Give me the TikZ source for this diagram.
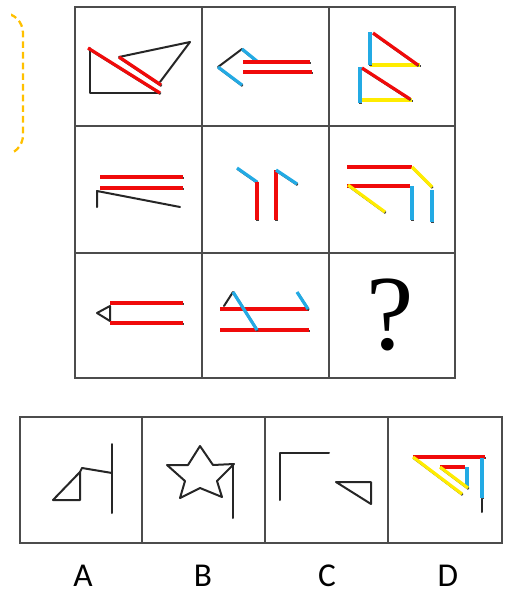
\documentclass[tikz,border=0pt]{standalone}
\usepackage{fontspec}
\newfontfamily\labelfont{Carlito}
\newfontfamily\qfont{Liberation Serif}

\definecolor{linered}{RGB}{240,10,10}
\definecolor{lineblue}{RGB}{35,170,228}
\definecolor{lineyellow}{RGB}{255,236,0}
\definecolor{bracketgold}{RGB}{255,192,0}

\begin{document}
\begin{tikzpicture}[
  x=0.75pt, y=-0.75pt,
  frame/.style={draw=black!70, line width=2pt},
  stroke/.style={draw=black!85, line width=1.5pt, line join=round, line cap=round},
  shade/.style={preaction={draw=black!75, line width=1.8pt, transform canvas={xshift=0.5pt, yshift=-0.7pt}}},
  rline/.style={shade, draw=linered, line width=2.4pt},
  bline/.style={shade, draw=lineblue, line width=2.4pt},
  yline/.style={shade, draw=lineyellow, line width=2.4pt},
  bracket/.style={draw=bracketgold, line width=1.7pt, dash pattern=on 5pt off 3pt, rounded corners=15pt},
  optlabel/.style={font=\labelfont\fontsize{25}{25}\selectfont, inner sep=0pt},
  qmark/.style={font=\qfont\fontsize{80}{80}\selectfont, inner sep=0pt}
]
\useasboundingbox (0,0) rectangle (504,593);

% ==================== bracket at left ====================
\begin{scope}
  \clip (11,0) rectangle (40,170);
  \draw[bracket] (0,13) -- (23,13) -- (23,155) -- (0,155);
\end{scope}

% ==================== 3x3 grid ====================
\draw[frame] (75,7) rectangle (455,378);
\draw[frame] (202,7) -- (202,378);
\draw[frame] (329,7) -- (329,378);
\draw[frame] (75,126) -- (455,126);
\draw[frame] (75,253) -- (455,253);

% ==================== row 1 ====================
\draw[stroke] (90,48) -- (90,93) -- (158,93);
\draw[rline] (88,48) -- (160,93);
\draw[stroke] (119,57) -- (190,42) -- (160,82);
\draw[rline] (119,57) -- (161,85);

\draw[stroke] (218,67) -- (242,49);
\draw[bline] (242,49) -- (258,62);
\draw[bline] (218,67) -- (242,85);
\draw[rline] (243,62) -- (310,62);
\draw[rline] (243,72) -- (312,72);

\draw[yline] (370,65) -- (420,65);
\draw[bline] (370,32) -- (370,65);
\draw[rline] (373,33) -- (418,65);
\draw[yline] (360,100) -- (412,100);
\draw[bline] (360,67) -- (360,103);
\draw[rline] (362,68) -- (410,99);

% ==================== row 2 ====================
\draw[rline] (100,177) -- (183,177);
\draw[stroke] (97,207) -- (97,191) -- (180,207);
\draw[rline] (100,188) -- (183,188);

\draw[bline] (237,168) -- (257,182);
\draw[rline] (257,182) -- (257,220);
\draw[rline] (276,170) -- (276,220);
\draw[bline] (276,170) -- (297,184);

\draw[rline] (347,167) -- (412,167);
\draw[yline] (412,167) -- (432,187);
\draw[bline] (432,190) -- (432,222);
\draw[rline] (347,186) -- (410,186);
\draw[bline] (412,186) -- (412,220);
\draw[yline] (348,185) -- (385,212);

% ==================== row 3 ====================
\draw[stroke] (110,306) -- (97,313) -- (110,321) -- cycle;
\draw[rline] (110,303) -- (183,303);
\draw[rline] (110,323) -- (183,323);

\draw[rline] (220,309) -- (308,309);
\draw[rline] (220,330) -- (309,330);
\draw[stroke] (224,306) -- (233,292);
\draw[bline] (233,292) -- (257,330);
\draw[bline] (297,292) -- (308,309);

\node[qmark] (qm) at (390,315) {?};

% ==================== options ====================
\draw[frame] (20,417) rectangle (502,543);
\draw[frame] (142,417) -- (142,543);
\draw[frame] (265,417) -- (265,543);
\draw[frame] (388,417) -- (388,543);

% A
\draw[stroke] (53,500) -- (80,472) -- (80,500) -- cycle;
\draw[stroke] (80,472) -- (82,468) -- (112,473);
\draw[stroke] (112,444) -- (112,513);

% B
\draw[stroke] (200,446) -- (213,465) -- (234,464) -- (217,481) -- (222,497) -- (200,488)
  -- (180,498) -- (185,481) -- (167,465) -- (188,465) -- cycle;
\draw[stroke] (233,464) -- (233,518);

% C
\draw[stroke] (280,500) -- (280,453) -- (329,453);
\draw[stroke] (336,482) -- (371,482) -- (371,504) -- cycle;

% D
\draw[rline] (413,457) -- (485,457);
\draw[stroke] (482,495) -- (482,512);
\draw[bline] (482,458) -- (482,498);
\draw[yline] (413,457) -- (462,494);
\draw[rline] (440,467) -- (465,467);
\draw[bline] (467,467) -- (467,488);
\draw[yline] (440,467) -- (468,488);

\node[optlabel] (labA) at (83,576) {A};
\node[optlabel] (labB) at (203,576) {B};
\node[optlabel] (labC) at (327,576) {C};
\node[optlabel] (labD) at (448,576) {D};

\end{tikzpicture}
\end{document}
